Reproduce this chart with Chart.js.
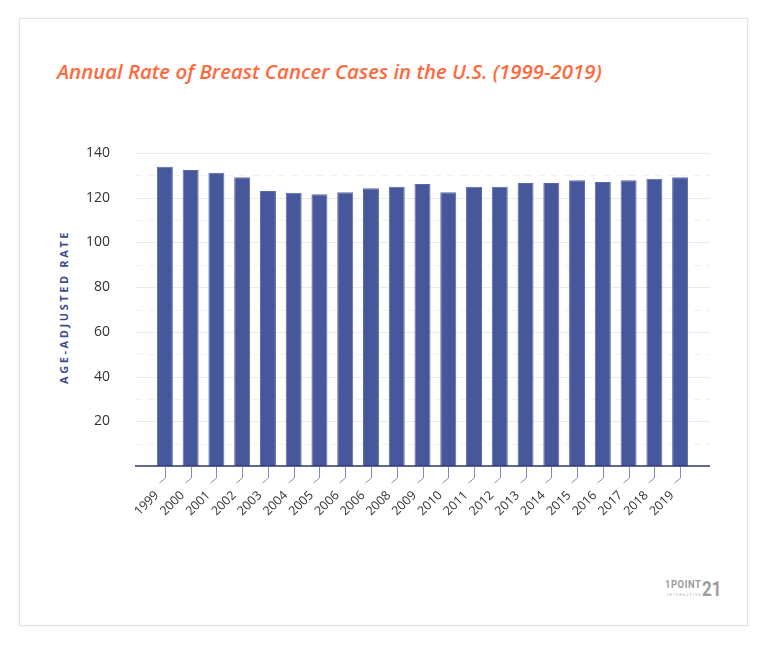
<!DOCTYPE html>
<html>
<head>
<meta charset="utf-8">
<script src="https://cdn.jsdelivr.net/npm/chart.js@4.4.1/dist/chart.umd.min.js"></script>
<style>
  body { margin: 0; background: #fff; width: 768px; height: 646px; position: relative; overflow: hidden; font-family: "Open Sans", sans-serif; }
  .card { position: absolute; left: 19px; top: 18px; width: 727px; height: 606px; border: 1px solid #e3e3e3; box-shadow: 0 0 3px rgba(0,0,0,.07); }
  h1 { position: absolute; left: 57px; top: 57px; margin: 0; font: italic 600 20.4px "Open Sans"; color: #ff6a3d; white-space: nowrap; }
  .ytitle { position: absolute; left: 63px; top: 307px; transform: translate(-50%, -50%) rotate(-90deg); font: bold 11px "Open Sans"; letter-spacing: 2.6px; color: #3d4d8c; white-space: nowrap; }
  .logo span { position: absolute; color: #9c9c9c; font-family: "Roboto", sans-serif; font-weight: bold; line-height: 1; white-space: nowrap; transform-origin: left top; }
  .logo .a { left: 665px; top: 580px; font-size: 10.5px; transform: scaleX(0.9); letter-spacing: 0.6px; }
  .logo .b { left: 702px; top: 579px; font-size: 20px; transform: scaleX(0.85); }
  .logo .c { left: 667px; top: 594px; font-size: 3px; letter-spacing: 1.5px; font-weight: normal; }
  #wrap { position: absolute; left: 0; top: 0; width: 768px; height: 646px; }
</style>
</head>
<body>
<div class="card"></div>
<h1>Annual Rate of Breast Cancer Cases in the U.S. (1999-2019)</h1>
<div class="ytitle">AGE-ADJUSTED RATE</div>
<div class="logo"><span class="a">1POINT</span><span class="b">21</span><span class="c">INTERACTIVE</span></div>
<div id="wrap"><canvas id="chart" width="768" height="646"></canvas></div>
<script>
const years = ["1999", "2000", "2001", "2002", "2003", "2004", "2005", "2006", "2006", "2008",
               "2009", "2010", "2011", "2012", "2013", "2014", "2015", "2016", "2017", "2018", "2019"];
const rates = [133.9, 132.4, 131.2, 129.2, 123.0, 122.2, 121.5, 122.5, 124.2, 124.9,
               126.1, 122.5, 124.9, 124.9, 126.6, 126.6, 127.8, 127.0, 127.8, 128.5, 129.2];
const yTicks = [20, 40, 60, 80, 100, 120, 140];

const navy = "#46579b";

// grid lines run a little past the bars on both sides
const gridLines = {
  id: "gridLines",
  beforeDatasetsDraw(chart) {
    const { ctx, chartArea: a, scales: { y } } = chart;
    ctx.save();
    y.ticks.forEach(t => {
      if (t.value === 0) return;
      const py = Math.round(y.getPixelForValue(t.value)) + 0.5;
      ctx.beginPath();
      if (yTicks.includes(t.value)) {
        ctx.setLineDash([]);
        ctx.strokeStyle = "#ebebe6";
      } else {
        ctx.setLineDash([7, 6]);
        ctx.strokeStyle = "#f0f0ee";
      }
      ctx.lineWidth = 1;
      ctx.moveTo(a.left - 17, py);
      ctx.lineTo(a.right + 17, py);
      ctx.stroke();
    });
    ctx.restore();
  },
  afterDatasetsDraw(chart) {
    const { ctx, chartArea: a, scales: { x, y } } = chart;
    const base = y.getPixelForValue(0);
    ctx.save();
    ctx.strokeStyle = "#2c3670";
    ctx.lineWidth = 1.5;
    ctx.beginPath();
    ctx.moveTo(a.left - 17, base);
    ctx.lineTo(a.right + 17, base);
    ctx.stroke();
    // little bent tick marks under each bar
    ctx.strokeStyle = "#7f8dc2";
    ctx.lineWidth = 1;
    years.forEach((_, i) => {
      const px = Math.round(x.getPixelForTick(i)) + 0.5;
      ctx.beginPath();
      ctx.moveTo(px, base + 1);
      ctx.lineTo(px, base + 12);
      ctx.lineTo(px - 6, base + 17);
      ctx.stroke();
    });
    ctx.restore();
  }
};

new Chart(document.querySelector("#chart"), {
  type: "bar",
  data: {
    labels: years,
    datasets: [{
      data: rates,
      backgroundColor: navy,
      borderColor: "#5a6aa8",
      borderWidth: 1,
      categoryPercentage: 1,
      barPercentage: 0.62
    }]
  },
  options: {
    responsive: false,
    animation: false,
    events: [],
    layout: { padding: { left: 0, top: 153, right: 75, bottom: 110 } },
    plugins: { legend: { display: false }, tooltip: { enabled: false } },
    scales: {
      x: {
        grid: { display: false },
        border: { display: false },
        ticks: {
          autoSkip: false,
          maxRotation: 45,
          minRotation: 45,
          padding: 14,
          labelOffset: -8,
          color: "#333",
          font: { family: "Open Sans", size: 12.5 }
        },
        afterFit(scale) { scale.height = 70; }
      },
      y: {
        min: 0,
        max: 140,
        grid: { display: false },
        border: { display: false },
        ticks: {
          stepSize: 10,
          padding: 34,
          color: "#333",
          font: { family: "Open Sans", size: 14 },
          callback: v => yTicks.includes(v) ? v : ""
        },
        afterFit(scale) { scale.width = 152; }
      }
    }
  },
  plugins: [gridLines]
});
</script>
</body>
</html>
